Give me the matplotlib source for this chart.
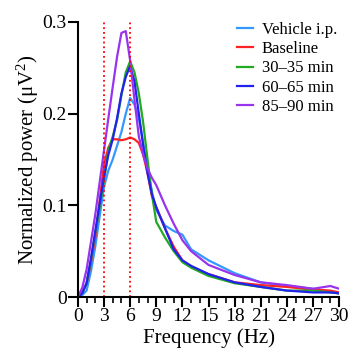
import numpy as np
import matplotlib.pyplot as plt
from matplotlib.ticker import MultipleLocator

plt.rcParams.update({'font.family': ['Liberation Serif', 'DejaVu Serif'], 'font.size': 14,
                     'mathtext.fontset': 'custom', 'mathtext.rm': 'Liberation Serif',
                     'mathtext.it': 'Liberation Serif:italic'})

# frequency points (Hz)
freq = [0, 0.5, 1, 1.5, 2, 2.5, 3, 3.5, 4, 4.5, 5, 5.5, 6, 6.5, 7, 7.5, 8, 8.5, 9,
        10, 11, 12, 13, 15, 18, 21, 24, 27, 29, 30]

vehicle = [0, 0.002, 0.007, 0.028, 0.055, 0.088, 0.120, 0.138, 0.150, 0.165, 0.180, 0.200, 0.217,
           0.210, 0.195, 0.168, 0.140, 0.115, 0.095, 0.078, 0.072, 0.068, 0.052, 0.040, 0.026,
           0.016, 0.012, 0.009, 0.006, 0.004]
baseline = [0, 0.005, 0.015, 0.038, 0.065, 0.105, 0.145, 0.163, 0.172, 0.172, 0.171, 0.172, 0.174,
            0.172, 0.168, 0.155, 0.135, 0.110, 0.098, 0.075, 0.055, 0.040, 0.033, 0.025, 0.016,
            0.013, 0.011, 0.008, 0.007, 0.005]
min30 = [0, 0.004, 0.015, 0.040, 0.070, 0.098, 0.127, 0.160, 0.175, 0.193, 0.220, 0.245, 0.257,
         0.245, 0.222, 0.190, 0.150, 0.112, 0.082, 0.065, 0.050, 0.038, 0.032, 0.023, 0.015,
         0.011, 0.007, 0.007, 0.005, 0.004]
min60 = [0, 0.004, 0.015, 0.042, 0.072, 0.102, 0.131, 0.155, 0.172, 0.195, 0.222, 0.240, 0.252,
         0.235, 0.200, 0.165, 0.135, 0.112, 0.098, 0.075, 0.052, 0.040, 0.034, 0.025, 0.016,
         0.011, 0.007, 0.005, 0.005, 0.004]
min85 = [0, 0.010, 0.030, 0.060, 0.090, 0.125, 0.160, 0.195, 0.229, 0.262, 0.288, 0.290, 0.258,
         0.215, 0.175, 0.155, 0.140, 0.130, 0.122, 0.100, 0.080, 0.062, 0.050, 0.035, 0.024,
         0.016, 0.013, 0.009, 0.012, 0.009]

series = [vehicle, baseline, min30, min60, min85]
labels = ['Vehicle i.p.', 'Baseline', '30\u201335 min', '60\u201365 min', '85\u201390 min']
colors = ['#3399ff', '#ff2222', '#22aa22', '#2222ee', '#9933ee']

fig = plt.figure(figsize=(3.54, 3.54), dpi=100)
ax = fig.add_axes([0.22, 0.161, 0.738, 0.777])

for y, lab, c in zip(series, labels, colors):
    ax.plot(freq, y, color=c, lw=1.6, label=lab)

# theta band markers
for xv in [3, 6]:
    ax.plot([xv, xv], [0, 0.3], color='red', ls=':', lw=1.3)

ax.set_xlim(0, 30)
ax.set_ylim(0, 0.3)
ax.xaxis.set_major_locator(MultipleLocator(3))
ax.xaxis.set_minor_locator(MultipleLocator(1))
ax.set_yticks([0, 0.1, 0.2, 0.3])
ax.set_yticklabels(['0', '0.1', '0.2', '0.3'])
ax.spines['top'].set_visible(False)
ax.spines['right'].set_visible(False)
for s in ['left', 'bottom']:
    ax.spines[s].set_linewidth(1.5)
ax.tick_params(which='major', direction='out', length=7, width=1.5, pad=1, labelsize=14)
ax.tick_params(which='minor', direction='out', length=4, width=1.2)
ax.set_xlabel('Frequency (Hz)', labelpad=2, fontsize=15)
ax.set_ylabel('Normalized power (\u03bcV$^2$)', labelpad=1, fontsize=15)

ax.legend(loc='upper right', bbox_to_anchor=(1.05, 1.055), frameon=False, fontsize=12,
          handlelength=1.0, handletextpad=0.5, labelspacing=0.2)

plt.savefig('out.png', dpi=100)
